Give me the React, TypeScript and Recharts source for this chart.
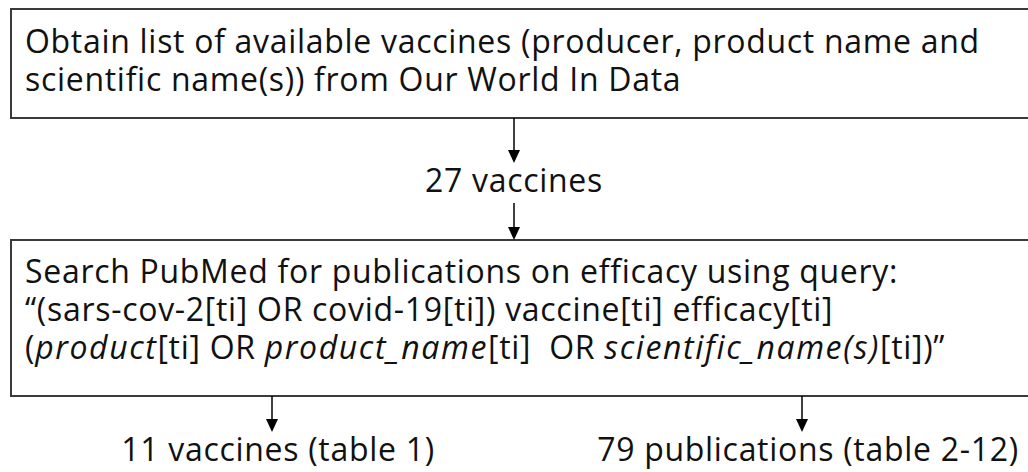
import React from "react";
import { ComposedChart, XAxis, YAxis, ReferenceArea, ReferenceLine, ReferenceDot } from "recharts";

// ---- content (text of the flow diagram) ----
const sourceStepLines: string[] = [
  "Obtain list of available vaccines (producer, product name and",
  "scientific name(s)) from Our World In Data",
];
const vaccineCountLabel: string[] = ["27 vaccines"];
// each line of the search step as [text, italic] segments
const searchStepLines: [string, boolean][][] = [
  [["Search PubMed for publications on efficacy using query:", false]],
  [["\u201C(sars-cov-2[ti] OR covid-19[ti]) vaccine[ti] efficacy[ti]", false]],
  [
    ["(", false],
    ["product", true],
    ["[ti] OR ", false],
    ["product_name", true],
    ["[ti]  OR ", false],
    ["scientific_name(s)", true],
    ["[ti])\u201D", false],
  ],
];
const outcomeLabels: string[] = ["11 vaccines (table 1)", "79 publications (table 2-12)"];

// ---- layout (diagram coordinates = pixels) ----
const W = 1028;
const H = 472;
const FONT = "'Open Sans', Lato, sans-serif";
const FS = 32;
const LS = 0.7;
const LS_ITALIC = 1.6;
const boxStroke = "#3a3a3a";
const box1 = { x1: 11, x2: 1040, y1: 9, y2: 118 };
const box2 = { x1: 11, x2: 1040, y1: 240, y2: 396 };
const textX = 25;
const box1Baselines = [53, 91];
const box2Baselines = [283, 321, 359];
const midX = 514;
const midBaseline = 192;
const outcomeArrowX = [272, 802];
const outcomeBaseline = 461;
const arrows = [
  { x: midX, y1: box1.y2, y2: 163 },
  { x: midX, y1: 203, y2: box2.y1 },
  { x: outcomeArrowX[0], y1: box2.y2, y2: 432 },
  { x: outcomeArrowX[1], y1: box2.y2, y2: 432 },
];

const textShape = (content: React.ReactNode, anchor: "start" | "middle") => (props: any) => (
  <text
    x={props.cx}
    y={props.cy}
    textAnchor={anchor}
    fontFamily={FONT}
    fontSize={FS}
    letterSpacing={LS}
    fill="#111"
    style={{ whiteSpace: "pre" }}
  >
    {content}
  </text>
);

const arrowHead = (props: any) => {
  const { cx, cy } = props;
  const hw = 6;
  const hh = 13;
  return <path d={`M${cx - hw},${cy - hh} L${cx + hw},${cy - hh} L${cx},${cy} Z`} fill="#000" />;
};

export default function App() {
  return (
    <div style={{ position: "absolute", left: 0, top: 0, background: "#fff" }}>
      <ComposedChart width={W} height={H} data={[]} margin={{ top: 0, right: 0, bottom: 0, left: 0 }}>
        <XAxis type="number" dataKey="x" domain={[0, W]} hide allowDataOverflow />
        <YAxis type="number" domain={[0, H]} reversed hide allowDataOverflow />
        <ReferenceArea
          x1={box1.x1}
          x2={box1.x2}
          y1={box1.y1}
          y2={box1.y2}
          fill="#fff"
          fillOpacity={1}
          stroke={boxStroke}
          strokeWidth={2}
          ifOverflow="visible"
        />
        <ReferenceArea
          x1={box2.x1}
          x2={box2.x2}
          y1={box2.y1}
          y2={box2.y2}
          fill="#fff"
          fillOpacity={1}
          stroke={boxStroke}
          strokeWidth={2}
          ifOverflow="visible"
        />
        {arrows.map((a, i) => (
          <ReferenceLine
            key={`s${i}`}
            segment={[
              { x: a.x, y: a.y1 },
              { x: a.x, y: a.y2 - 8 },
            ]}
            stroke="#000"
            strokeWidth={1.5}
            ifOverflow="visible"
          />
        ))}
        {arrows.map((a, i) => (
          <ReferenceDot key={`h${i}`} x={a.x} y={a.y2} r={0} shape={arrowHead} ifOverflow="visible" />
        ))}
        {sourceStepLines.map((line, i) => (
          <ReferenceDot
            key={`b1${i}`}
            x={textX}
            y={box1Baselines[i]}
            r={0}
            shape={textShape(line, "start")}
            ifOverflow="visible"
          />
        ))}
        {vaccineCountLabel.map((line, i) => (
          <ReferenceDot
            key={`m${i}`}
            x={midX}
            y={midBaseline}
            r={0}
            shape={textShape(line, "middle")}
            ifOverflow="visible"
          />
        ))}
        {searchStepLines.map((segs, i) => (
          <ReferenceDot
            key={`b2${i}`}
            x={textX}
            y={box2Baselines[i]}
            r={0}
            shape={textShape(
              segs.map(([t, it], j) => (
                <tspan
                  key={j}
                  fontStyle={it ? "italic" : "normal"}
                  letterSpacing={it ? LS_ITALIC : LS}
                >
                  {t}
                </tspan>
              )),
              "start"
            )}
            ifOverflow="visible"
          />
        ))}
        {outcomeLabels.map((line, i) => (
          <ReferenceDot
            key={`o${i}`}
            x={outcomeArrowX[i] + 6}
            y={outcomeBaseline}
            r={0}
            shape={textShape(line, "middle")}
            ifOverflow="visible"
          />
        ))}
      </ComposedChart>
    </div>
  );
}
